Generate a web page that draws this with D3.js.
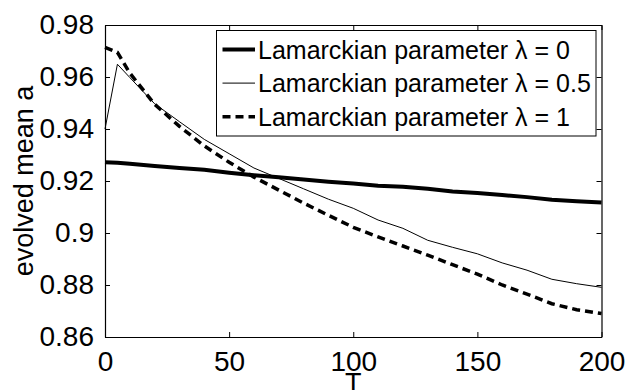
<!DOCTYPE html>
<html>
<head>
<meta charset="utf-8">
<script src="https://cdn.jsdelivr.net/npm/d3@7"></script>
<style>
  body { margin: 0; background: #fff; }
  svg text { font-family: "Liberation Sans", Arial, sans-serif; fill: #000; }
</style>
</head>
<body>
<div id="chart"></div>
<script>
// evolved mean a vs T for three Lamarckian parameters
var T = [0, 5, 10, 20, 30, 40, 50, 60, 70, 80, 90, 100, 110, 120, 130, 140, 150, 160, 170, 180, 190, 200];
var lambda0 = [0.9272, 0.9270, 0.9266, 0.9258, 0.9250, 0.9243, 0.9232, 0.9222, 0.9214, 0.9206, 0.9197, 0.9190, 0.9182, 0.9178, 0.9170, 0.9160, 0.9154, 0.9146, 0.9138, 0.9128, 0.9122, 0.9117];
var lambda05 = [0.9400, 0.9649, 0.9598, 0.9497, 0.9428, 0.9360, 0.9305, 0.9250, 0.9210, 0.9170, 0.9130, 0.9095, 0.9050, 0.9018, 0.8972, 0.8945, 0.8920, 0.8885, 0.8857, 0.8822, 0.8805, 0.8791];
var lambda1 = [0.9714, 0.9695, 0.9615, 0.9495, 0.9410, 0.9335, 0.9272, 0.9215, 0.9165, 0.9115, 0.9068, 0.9022, 0.8985, 0.8950, 0.8915, 0.8878, 0.8842, 0.8800, 0.8765, 0.8728, 0.8705, 0.8690];
var xTicks = [0, 50, 100, 150, 200];
var yTicks = [0.86, 0.88, 0.9, 0.92, 0.94, 0.96, 0.98];
var legendLabels = ["Lamarckian parameter \u03bb = 0", "Lamarckian parameter \u03bb = 0.5", "Lamarckian parameter \u03bb = 1"];

var width = 627, height = 390;
// plot box (note: "top" is taken by window.top, so use p*)
var pLeft = 105, pRight = 601.5, pTop = 25, pBottom = 337;

var svg = d3.select("#chart").append("svg")
    .attr("width", width)
    .attr("height", height);

var x = d3.scaleLinear().domain([0, 200]).range([pLeft, pRight]);
var y = d3.scaleLinear().domain([0.86, 0.98]).range([pBottom, pTop]);

var fmtY = function (d) { return String(+d.toFixed(2)); };

// axes, ticks pointing inward, box on all sides
svg.append("g").attr("transform", "translate(0," + pBottom + ")")
    .call(d3.axisBottom(x).tickValues(xTicks).tickSizeInner(-5).tickSizeOuter(0).tickPadding(14));
svg.append("g").attr("transform", "translate(0," + pTop + ")")
    .call(d3.axisTop(x).tickValues(xTicks).tickSizeInner(-5).tickSizeOuter(0).tickFormat(""));
svg.append("g").attr("transform", "translate(" + pLeft + ",0)")
    .call(d3.axisLeft(y).tickValues(yTicks).tickSizeInner(-5).tickSizeOuter(0).tickPadding(11).tickFormat(fmtY));
svg.append("g").attr("transform", "translate(" + pRight + ",0)")
    .call(d3.axisRight(y).tickValues(yTicks).tickSizeInner(-5).tickSizeOuter(0).tickFormat(""));

svg.selectAll(".domain").attr("stroke", "#000").attr("stroke-width", 1.2);
svg.selectAll(".tick line").attr("stroke", "#000");
svg.selectAll(".tick text").attr("font-size", 28).attr("font-family", "Liberation Sans, Arial, sans-serif");

// series
var line = d3.line()
    .x(function (d, i) { return x(T[i]); })
    .y(function (d) { return y(d); });

var series = [
  { values: lambda0, width: 4, dash: null },
  { values: lambda05, width: 1, dash: null },
  { values: lambda1, width: 3.5, dash: "8,5" }
];

svg.append("g").selectAll("path").data(series).enter().append("path")
    .attr("d", function (d) { return line(d.values); })
    .attr("fill", "none")
    .attr("stroke", "#000")
    .attr("stroke-width", function (d) { return d.width; })
    .attr("stroke-dasharray", function (d) { return d.dash; });

// legend
var lg = svg.append("g");
lg.append("rect")
    .attr("x", 216.5).attr("y", 30.5)
    .attr("width", 379.5).attr("height", 105.5)
    .attr("fill", "#fff").attr("stroke", "#000").attr("stroke-width", 1);

var rows = lg.selectAll("g.row").data(series).enter().append("g")
    .attr("class", "row")
    .attr("transform", function (d, i) { return "translate(0," + (49.5 + i * 33.6) + ")"; });

rows.append("line")
    .attr("x1", 222.5).attr("x2", 255)
    .attr("stroke", "#000")
    .attr("stroke-width", function (d) { return d.width; })
    .attr("stroke-dasharray", function (d) { return d.dash; });

rows.append("text")
    .attr("x", 258)
    .attr("dy", "0.36em")
    .attr("font-size", 25)
    .text(function (d, i) { return legendLabels[i]; });

// axis labels
svg.append("text")
    .attr("transform", "translate(33," + ((pTop + pBottom) / 2) + ") rotate(-90)")
    .attr("text-anchor", "middle")
    .attr("font-size", 27)
    .text("evolved mean a");

svg.append("text")
    .attr("x", (pLeft + pRight) / 2)
    .attr("y", 392)
    .attr("text-anchor", "middle")
    .attr("font-size", 27)
    .text("T");
</script>
</body>
</html>
